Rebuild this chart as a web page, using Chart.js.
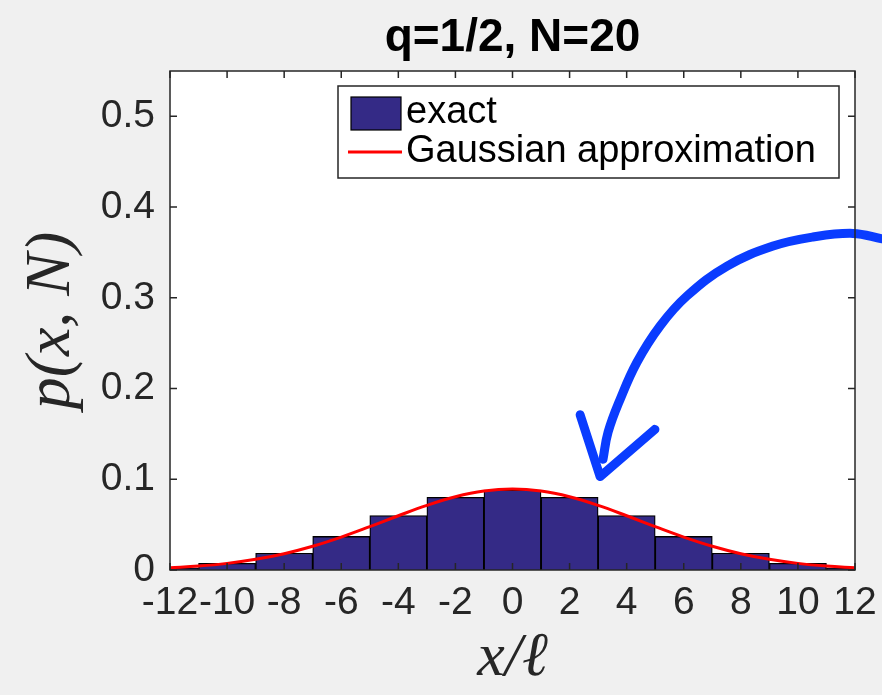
<!DOCTYPE html>
<html>
<head>
<meta charset="utf-8">
<script src="https://cdn.jsdelivr.net/npm/chart.js@4/dist/chart.umd.min.js"></script>
<style>
  html, body { margin: 0; padding: 0; background: #f0f0f0; }
  #wrap { width: 882px; height: 695px; }
</style>
</head>
<body>
<div id="wrap"><canvas id="histChart"></canvas></div>
<script>
// histogram bins (centre of each bin, width 2) and heights
const binCenters = [-12, -10, -8, -6, -4, -2, 0, 2, 4, 6, 8, 10, 12]
const exactProb = [0.0023, 0.0074, 0.0185, 0.0370, 0.0601, 0.0801, 0.0881, 0.0801, 0.0601, 0.0370, 0.0185, 0.0074, 0.0023]

// gaussian curve
const gaussX = [-12, -11, -10, -9, -8, -7, -6, -5, -4, -3, -2, -1, 0, 1, 2, 3, 4, 5, 6, 7, 8, 9, 10, 11, 12]
const gaussY = [0.0024, 0.0043, 0.0073, 0.0118, 0.0180, 0.0262, 0.0363, 0.0478, 0.0598, 0.0712, 0.0807, 0.0870, 0.0892,
                0.0870, 0.0807, 0.0712, 0.0598, 0.0478, 0.0363, 0.0262, 0.0180, 0.0118, 0.0073, 0.0043, 0.0024]

// hand drawn arrow, in data units
const arrowShaftX = [3.17, 3.35, 3.77, 4.36, 5.17, 6.11, 7.52, 9.13, 10.53, 11.93, 12.95]
const arrowShaftY = [0.122, 0.152, 0.188, 0.229, 0.269, 0.302, 0.335, 0.357, 0.367, 0.371, 0.365]
const arrowHeadX = [2.37, 3.07, 4.99]
const arrowHeadY = [0.171, 0.103, 0.155]

const xTicks = [-12, -10, -8, -6, -4, -2, 0, 2, 4, 6, 8, 10, 12]
const yTicks = [0, 0.1, 0.2, 0.3, 0.4, 0.5]

const titleText = "q=1/2, N=20"
const xLabel = "x/\u2113"
const yLabel = "p(x, N)"

const sans = "'Liberation Sans', Arial, Helvetica, sans-serif"
const serif = "'Liberation Serif', 'Times New Roman', serif"
const axisColor = "#262626"
const barColor = "rgb(52, 42, 134)"
const lineColor = "#ff0000"
const arrowColor = "#0a3cff"

const toPoints = (xs, ys) => xs.map((x, i) => ({ x: x, y: ys[i] }))

// grey page, white axes
const bgPlugin = {
  id: "bg",
  beforeDraw(chart) {
    const { ctx, chartArea: a } = chart
    ctx.save()
    ctx.fillStyle = "#f0f0f0"
    ctx.fillRect(0, 0, chart.width, chart.height)
    ctx.fillStyle = "#ffffff"
    ctx.fillRect(a.left, a.top, a.right - a.left, a.bottom - a.top)
    ctx.restore()
  }
}

// title centred over the axes, not the whole canvas
const axesTitlePlugin = {
  id: "axesTitle",
  afterDraw(chart) {
    const { ctx, chartArea: a } = chart
    ctx.save()
    ctx.fillStyle = "#000000"
    ctx.font = "bold 46px " + sans
    ctx.textAlign = "center"
    ctx.textBaseline = "alphabetic"
    ctx.fillText(titleText, (a.left + a.right) / 2, 51)
    ctx.restore()
  }
}

// box + inward ticks on all four sides, like matlab
const framePlugin = {
  id: "frame",
  afterDatasetsDraw(chart) {
    const { ctx, chartArea: a, scales } = chart
    const tl = 7
    ctx.save()
    ctx.strokeStyle = axisColor
    ctx.lineWidth = 1.5
    ctx.strokeRect(a.left, a.top, a.right - a.left, a.bottom - a.top)
    ctx.beginPath()
    scales.x.ticks.forEach(t => {
      const px = scales.x.getPixelForValue(t.value)
      ctx.moveTo(px, a.bottom); ctx.lineTo(px, a.bottom - tl)
      ctx.moveTo(px, a.top); ctx.lineTo(px, a.top + tl)
    })
    scales.y.ticks.forEach(t => {
      const py = scales.y.getPixelForValue(t.value)
      ctx.moveTo(a.left, py); ctx.lineTo(a.left + tl, py)
      ctx.moveTo(a.right, py); ctx.lineTo(a.right - tl, py)
    })
    ctx.stroke()
    ctx.restore()
  }
}

// legend box in the upper right of the axes
const legendPlugin = {
  id: "boxLegend",
  afterDraw(chart) {
    const { ctx } = chart
    const items = chart.data.datasets.filter(d => d.inLegend)
    const box = { left: 338, top: 86, width: 501, height: 92 }
    ctx.save()
    ctx.fillStyle = "#ffffff"
    ctx.fillRect(box.left, box.top, box.width, box.height)
    ctx.strokeStyle = axisColor
    ctx.lineWidth = 1.5
    ctx.strokeRect(box.left, box.top, box.width, box.height)
    ctx.font = "38px " + sans
    ctx.textBaseline = "middle"
    items.forEach((d, i) => {
      const cy = box.top + 27 + i * 39
      if (d.type === "bar") {
        ctx.fillStyle = d.backgroundColor
        ctx.fillRect(351, cy - 16, 50, 33)
        ctx.strokeStyle = "#000"
        ctx.lineWidth = 1.2
        ctx.strokeRect(351, cy - 16, 50, 33)
      } else {
        ctx.strokeStyle = d.borderColor
        ctx.lineWidth = d.borderWidth
        ctx.beginPath()
        ctx.moveTo(348, cy)
        ctx.lineTo(402, cy)
        ctx.stroke()
      }
      ctx.fillStyle = "#000"
      ctx.fillText(d.label, 406, cy)
    })
    ctx.restore()
  }
}

const config = {
  type: "bar",
  data: {
    datasets: [
      {
        type: "bar",
        label: "exact",
        inLegend: true,
        data: toPoints(binCenters, exactProb),
        backgroundColor: barColor,
        borderColor: "#000000",
        borderWidth: 1.3,
        barPercentage: 1,
        categoryPercentage: 1,
        clip: { left: 0, right: 0, top: 0, bottom: 2 },
        order: 3
      },
      {
        type: "line",
        label: "Gaussian approximation",
        inLegend: true,
        data: toPoints(gaussX, gaussY),
        borderColor: lineColor,
        borderWidth: 3,
        pointRadius: 0,
        tension: 0.4,
        fill: false,
        order: 2
      },
      {
        type: "line",
        label: "arrow",
        data: toPoints(arrowShaftX, arrowShaftY),
        borderColor: arrowColor,
        borderWidth: 9,
        borderCapStyle: "round",
        pointRadius: 0,
        tension: 0.4,
        clip: false,
        order: 1
      },
      {
        type: "line",
        label: "arrow head",
        data: toPoints(arrowHeadX, arrowHeadY),
        borderColor: arrowColor,
        borderWidth: 9,
        borderCapStyle: "round",
        borderJoinStyle: "round",
        pointRadius: 0,
        tension: 0,
        clip: false,
        order: 0
      }
    ]
  },
  options: {
    responsive: true,
    maintainAspectRatio: false,
    animation: false,
    layout: { padding: { left: 0, right: 27, top: 71, bottom: 0 } },
    plugins: {
      legend: { display: false },
      tooltip: { enabled: false },
      title: { display: false }
    },
    scales: {
      x: {
        type: "linear",
        min: -12,
        max: 12,
        offset: false,
        afterBuildTicks: s => { s.ticks = xTicks.map(v => ({ value: v })) },
        afterFit: s => { s.height = 125; s.paddingLeft = 0; s.paddingRight = 0 },
        grid: { display: false, drawTicks: false, offset: false },
        border: { display: false },
        ticks: {
          color: axisColor,
          font: { family: sans, size: 39 },
          padding: 10,
          maxRotation: 0,
          autoSkip: false,
          callback: v => String(v)
        },
        title: {
          display: true,
          text: xLabel,
          color: axisColor,
          font: { family: serif, size: 62, style: "italic", lineHeight: 1 },
          padding: { top: 0, bottom: 5 }
        }
      },
      y: {
        type: "linear",
        min: 0,
        max: 0.55,
        afterBuildTicks: s => { s.ticks = yTicks.map(v => ({ value: v })) },
        afterFit: s => { s.width = 170; s.paddingTop = 0; s.paddingBottom = 0 },
        grid: { display: false, drawTicks: false },
        border: { display: false },
        ticks: {
          color: axisColor,
          font: { family: sans, size: 39 },
          padding: 15,
          autoSkip: false,
          callback: v => String(Math.round(v * 10) / 10)
        },
        title: {
          display: true,
          text: yLabel,
          color: axisColor,
          font: { family: serif, size: 64, style: "italic", lineHeight: 1 },
          padding: { top: 20, bottom: 0 }
        }
      }
    }
  },
  plugins: [bgPlugin, framePlugin, legendPlugin, axesTitlePlugin]
}

var histChart = new Chart(document.getElementById("histChart"), config)
</script>
</body>
</html>
